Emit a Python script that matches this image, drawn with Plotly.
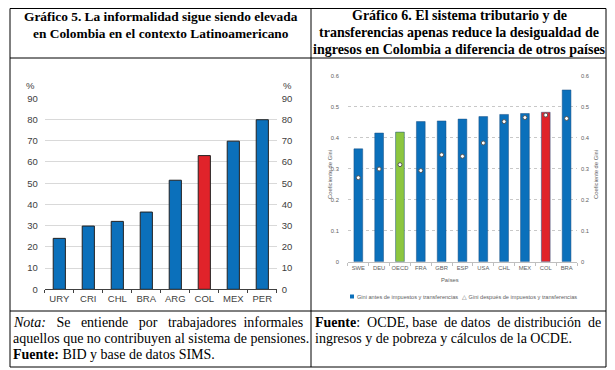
import plotly.graph_objects as go

# page body has an 8px margin: figure is drawn from (8, 8) in the window
OFF = 8
W, H = 615 - OFF, 370 - OFF

# ---------------- data ----------------
inf_countries = ["URY", "CRI", "CHL", "BRA", "ARG", "COL", "MEX", "PER"]
inf_values = [24.0, 29.8, 32.0, 36.4, 51.4, 63.0, 69.8, 79.9]
inf_ticks = [0, 10, 20, 30, 40, 50, 60, 70, 80, 90]

gini_countries = ["SWE", "DEU", "OECD", "FRA", "GBR", "ESP", "USA", "CHL", "MEX", "COL", "BRA"]
gini_before = [0.364, 0.415, 0.418, 0.452, 0.454, 0.460, 0.468, 0.475, 0.478, 0.482, 0.554]
gini_after = [0.271, 0.299, 0.313, 0.294, 0.345, 0.340, 0.383, 0.452, 0.465, 0.473, 0.462]
gini_ticks = [0, 0.1, 0.2, 0.3, 0.4, 0.5, 0.6]
gini_ticktext = ["0", "0.1", "0.2", "0.3", "0.4", "0.5", "0.6"]

title5 = ["Gráfico 5. La informalidad sigue siendo elevada",
          "en Colombia en el contexto Latinoamericano"]
title6 = ["Gráfico 6. El sistema tributario y de",
          "transferencias apenas reduce la desigualdad de",
          "ingresos en Colombia a diferencia de otros países"]
S1 = " "
S2 = "\u00a0" * 2
S3 = "\u00a0" * 3
note5 = ["<i>Nota:</i>" + S3 + "Se" + S3 + "entiende" + S3 + "por" + S3 + "trabajadores" + S2 + "informales",
         "aquellos que no contribuyen al sistema de pensiones.",
         "<b>Fuente:</b> BID y base de datos SIMS."]
note6 = ["<b>Fuente</b>:" + S2 + "OCDE," + S1 + "base" + S2 + "de" + S1 + "datos" + S2 + "de" + S1 + "distribución"
         + S2 + "de",
         "ingresos y de pobreza y cálculos de la OCDE."]
legend_before = "Gini antes de impuestos y transferencias"
legend_after = "△ Gini después de impuestos y transferencias"
gini_axis_title = "Coeficiente de Gini"
gini_x_title = "Países"

# ---------------- styles ----------------
BLUE = "#0b70bb"
RED = "#e0232a"
GREEN = "#8cc63f"
serif = "Liberation Serif"
sans = "Liberation Sans"


def px(x):
    return (x - OFF) / W


def py(y):
    return 1 - (y - OFF) / H


inf_colors = [RED if c == "COL" else BLUE for c in inf_countries]
gini_colors = [RED if c == "COL" else (GREEN if c == "OECD" else BLUE) for c in gini_countries]

fig = go.Figure()

# left chart
fig.add_trace(go.Bar(x=inf_countries, y=inf_values, marker=dict(color=inf_colors, line=dict(color="#222222", width=1)),
                     width=0.42, xaxis="x", yaxis="y", showlegend=False, hoverinfo="skip"))
fig.add_trace(go.Scatter(x=inf_countries, y=inf_values, mode="markers", marker=dict(opacity=0),
                         xaxis="x", yaxis="y2", showlegend=False, hoverinfo="skip"))

# right chart
fig.add_trace(go.Bar(x=gini_countries, y=gini_before, marker=dict(color=gini_colors, line=dict(color="#1a4f80", width=0.5)),
                     width=0.42, xaxis="x3", yaxis="y3", showlegend=False, hoverinfo="skip"))
fig.add_trace(go.Scatter(x=gini_countries, y=gini_after, mode="markers",
                         marker=dict(symbol="circle", size=4, color="white", line=dict(color="#555555", width=1)),
                         xaxis="x3", yaxis="y3", showlegend=False, hoverinfo="skip"))
fig.add_trace(go.Scatter(x=gini_countries, y=gini_after, mode="markers", marker=dict(opacity=0),
                         xaxis="x3", yaxis="y4", showlegend=False, hoverinfo="skip"))

tickfont_l = dict(family=sans, size=9.5, color="#404040")
tickfont_r = dict(family=sans, size=5.8, color="#606060")

fig.update_layout(
    width=W, height=H, autosize=False,
    margin=dict(l=0, r=0, t=0, b=0, autoexpand=False),
    paper_bgcolor="white", plot_bgcolor="rgba(0,0,0,0)",
    xaxis=dict(domain=[px(44.8), px(276.8)], range=[-0.5, 7.5], anchor="y", automargin=False,
               showline=True, linecolor="#404040", linewidth=1, tickangle=0,
               ticks="outside", tickson="boundaries", ticklen=3, tickcolor="#404040",
               tickfont=tickfont_l, showgrid=False, fixedrange=True),
    yaxis=dict(domain=[py(289.3), py(98.3)], range=[0, 90], anchor="x", automargin=False,
               tickvals=inf_ticks, tickfont=tickfont_l, showgrid=True, gridcolor="#d9d9d9",
               gridwidth=1, zeroline=False, ticks="", ticklabelstandoff=6),
    yaxis2=dict(domain=[py(289.3), py(98.3)], range=[0, 90], anchor="x", overlaying="y", side="right",
                automargin=False, tickvals=inf_ticks, tickfont=tickfont_l, showgrid=False, zeroline=False,
                ticks="", ticklabelstandoff=4),
    xaxis3=dict(domain=[px(347.9), px(577)], range=[-0.5, 10.5], anchor="y3", automargin=False,
                showline=True, linecolor="#bfbfbf", linewidth=1, tickangle=0,
                ticks="outside", tickson="boundaries", ticklen=3, tickcolor="#bfbfbf",
                tickfont=tickfont_r, showgrid=False),
    yaxis3=dict(domain=[py(261.7), py(75.7)], range=[0, 0.6], anchor="x3", automargin=False,
                tickvals=gini_ticks, ticktext=gini_ticktext, tickfont=tickfont_r,
                showgrid=True, gridcolor="#c8c8c8", griddash="dot", gridwidth=1, zeroline=False, ticks="",
                ticklabelstandoff=8),
    yaxis4=dict(domain=[py(261.7), py(75.7)], range=[0, 0.6], anchor="x3", overlaying="y3", side="right",
                automargin=False, tickvals=gini_ticks, ticktext=gini_ticktext, tickfont=tickfont_r,
                showgrid=False, zeroline=False, ticks="", ticklabelstandoff=3),
)

shapes = []
L, R, T, B = 10, 606, 8.5, 367
MID = 311
for (x0, y0, x1, y1) in [(L, T, R, T), (L, B, R, B), (L, T, L, B), (R, T, R, B), (MID, T, MID, B),
                         (L, 58, R, 58), (L, 311, R, 311)]:
    shapes.append(dict(type="line", xref="paper", yref="paper", x0=px(x0), y0=py(y0), x1=px(x1), y1=py(y1),
                       line=dict(color="black", width=1)))
# legend swatch (right chart)
shapes.append(dict(type="rect", xref="paper", yref="paper", x0=px(350), x1=px(354), y0=py(298.5), y1=py(294.5),
                   fillcolor=BLUE, line=dict(width=0)))
fig.update_layout(shapes=shapes)


def note(text, x, y, size, family=serif, color="black", xanchor="left", align="left", angle=0):
    return dict(text=text, x=px(x), y=py(y), xref="paper", yref="paper", showarrow=False,
                xanchor=xanchor, yanchor="middle", align=align, textangle=angle,
                font=dict(family=family, size=size, color=color))


ann = []
for i, line in enumerate(title5):
    ann.append(note("<b>" + line + "</b>", 161, 16.5 + 17 * i, 13.4, xanchor="center", align="center"))
for i, line in enumerate(title6):
    ann.append(note("<b>" + line + "</b>", 459, 15.5 + 17 * i, 14, xanchor="center", align="center"))
ann.append(note("%", 30, 85, 9.5, family=sans, color="#404040", xanchor="center"))
ann.append(note("%", 287, 85, 9.5, family=sans, color="#404040", xanchor="center"))
ann.append(note(legend_before, 355, 296.7, 5.6, family=sans, color="#606060"))
ann.append(note(legend_after, 460, 296.7, 5.6, family=sans, color="#606060"))
ann.append(note(gini_x_title, 450, 280, 5.8, family=sans, color="#606060", xanchor="center"))
ann.append(note(gini_axis_title, 330, 175, 5.8, family=sans, color="#606060", xanchor="center", angle=-90))
ann.append(note(gini_axis_title, 596, 175, 5.8, family=sans, color="#606060", xanchor="center", angle=-90))
for i, line in enumerate(note5):
    ann.append(note(line, 11, 322 + 16 * i, 14))
for i, line in enumerate(note6):
    ann.append(note(line, 313, 322 + 16 * i, 14))
fig.update_layout(annotations=ann)

fig.write_html("out.html")
